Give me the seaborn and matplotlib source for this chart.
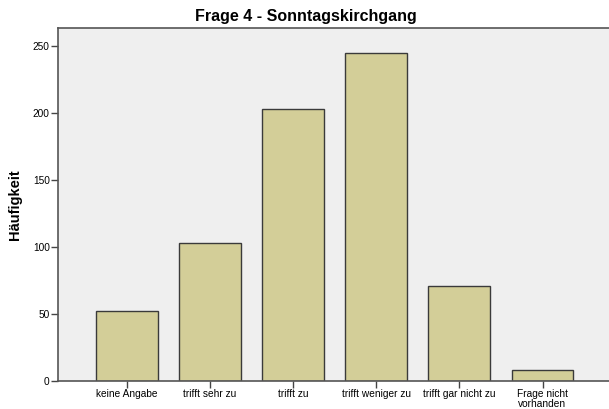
"""Frage 4 - Sonntagskirchgang, SPSS-style frequency bar chart."""

import matplotlib

matplotlib.use("Agg")
import matplotlib.pyplot as plt
import pandas as pd
import seaborn as sns

categories = [
    "keine Angabe",
    "trifft sehr zu",
    "trifft zu",
    "trifft weniger zu",
    "trifft gar nicht zu",
    "Frage nicht\nvorhanden",
]
counts = [52, 103, 203, 245, 71, 8]
y_ticks = [0, 50, 100, 150, 200, 250]

BAR_COLOR = "#D3CE98"
EDGE_COLOR = "#3A3A3A"
BG_COLOR = "#EFEFEF"

sns.set_style("white")
plt.rcParams["font.family"] = ["Liberation Sans", "DejaVu Sans"]
plt.rcParams["text.color"] = "black"
plt.rcParams["xtick.color"] = "black"
plt.rcParams["ytick.color"] = "black"

df = pd.DataFrame({"category": categories, "count": counts})

fig = plt.figure(figsize=(6.09, 4.09), dpi=100)
ax = fig.add_axes([58 / 609, 28 / 409, 1 - 58 / 609, (381 - 28) / 409])
ax.set_facecolor(BG_COLOR)

sns.barplot(
    data=df,
    x="category",
    y="count",
    color=BAR_COLOR,
    edgecolor=EDGE_COLOR,
    linewidth=1.0,
    width=0.745,
    saturation=1,
    ax=ax,
)

ax.set_xlim(-0.83, 5.8)
ax.set_ylim(0, 263.4)
ax.set_yticks(y_ticks)
ax.set_xlabel("")
ax.set_ylabel("Häufigkeit", fontsize=10.5, fontweight="bold", labelpad=8,
              color="black")
fig.text(306 / 609, 1 - 17 / 409, "Frage 4 - Sonntagskirchgang",
         ha="center", va="center", fontsize=11.5, fontweight="bold",
         color="black")

for side in ["left", "top", "bottom"]:
    ax.spines[side].set_visible(True)
    ax.spines[side].set_color("#555555")
    ax.spines[side].set_linewidth(1.2)
ax.spines["right"].set_visible(False)

ax.tick_params(axis="both", which="major", direction="out", length=5,
               width=1, color="#444444", labelsize=7.3, pad=1,
               left=True, bottom=True, labelcolor="black")
for lbl in ax.get_xticklabels():
    lbl.set_linespacing(0.9)

fig.savefig("out.png", dpi=100, facecolor="white")
